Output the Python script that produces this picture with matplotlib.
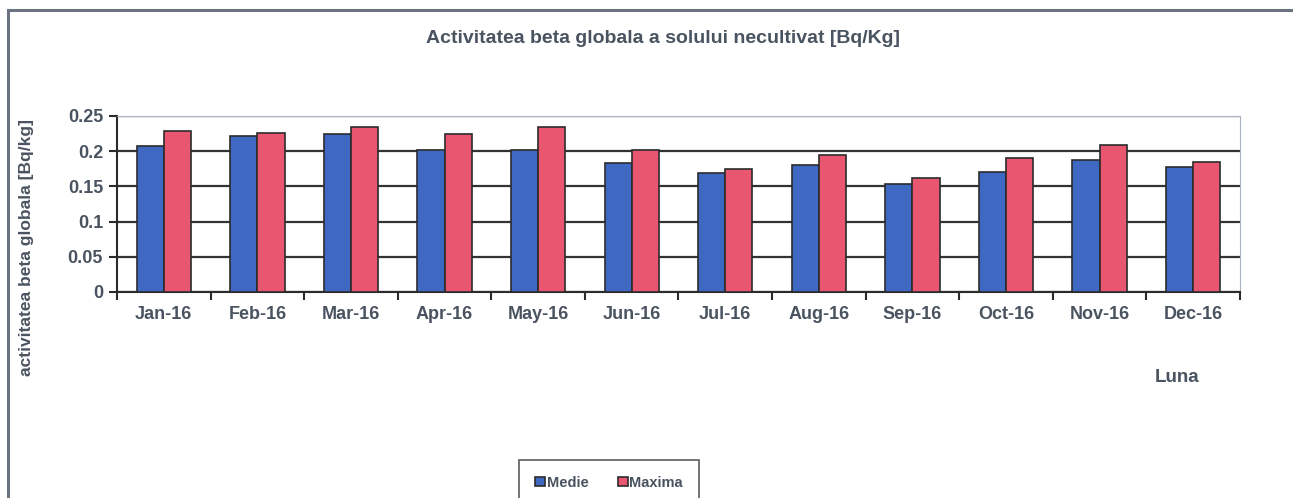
import numpy as np
import matplotlib
matplotlib.use('Agg')
import matplotlib.pyplot as plt
from matplotlib.patches import Rectangle

matplotlib.rc('font', **{'family': 'Liberation Sans', 'weight': 'bold', 'size': 11})

# data
months = ['Jan-16', 'Feb-16', 'Mar-16', 'Apr-16', 'May-16', 'Jun-16',
          'Jul-16', 'Aug-16', 'Sep-16', 'Oct-16', 'Nov-16', 'Dec-16']
medie = [0.207, 0.222, 0.225, 0.202, 0.202, 0.183, 0.169, 0.180, 0.153, 0.170, 0.187, 0.178]
maxima = [0.229, 0.226, 0.234, 0.224, 0.234, 0.202, 0.175, 0.195, 0.162, 0.191, 0.209, 0.184]

blue = '#3f68c3'
red = '#e8566f'
txt = '#4a5461'
edge = '#2b2b2b'

fig = plt.figure(figsize=(12.93, 4.98), dpi=100)

# outer chart border (left + top only visible)
fig.add_artist(Rectangle((8 / 1293, -0.1), 1.2, 1 - 10 / 498 + 0.1, transform=fig.transFigure,
                         fill=False, edgecolor='#6b7380', lw=2.2))

ax = fig.add_axes([117 / 1293, 1 - 292 / 498, (1240 - 117) / 1293, (292 - 116) / 498])

x = np.arange(len(months))
w = 0.29
ax.bar(x - w / 2, medie, w, color=blue, edgecolor=edge, lw=1.2, label='Medie', zorder=3)
ax.bar(x + w / 2, maxima, w, color=red, edgecolor=edge, lw=1.2, label='Maxima', zorder=3)

ax.set_xlim(-0.5, len(months) - 0.5)
ax.set_ylim(0, 0.25)
ax.set_yticks([0, 0.05, 0.1, 0.15, 0.2, 0.25])
ax.set_yticklabels(['0', '0.05', '0.1', '0.15', '0.2', '0.25'], color=txt, fontsize=13)
ax.set_xticks(x)
ax.set_xticklabels(months, color=txt, fontsize=13)
ax.tick_params(axis='x', length=0, pad=10)
ax.set_xticks(np.arange(-0.5, len(months)), minor=True)
ax.tick_params(axis='x', which='minor', length=6, width=1.5, color=edge, direction='out')
ax.tick_params(axis='y', length=6, width=1.5, color=edge, direction='out', pad=4)

ax.yaxis.grid(True, color='#333333', lw=1.6, zorder=0)
ax.set_axisbelow(True)
ax.spines['left'].set_color(edge)
ax.spines['left'].set_linewidth(1.5)
ax.spines['bottom'].set_color(edge)
ax.spines['bottom'].set_linewidth(1.5)
ax.spines['top'].set_color('#a9b3c2')
ax.spines['right'].set_color('#a9b3c2')

fig.text(663 / 1293, 1 - 38 / 498, 'Activitatea beta globala a solului necultivat [Bq/Kg]',
         ha='center', va='center', fontsize=14, color=txt)
fig.text(27 / 1293, 1 - 247 / 498, 'activitatea beta globala [Bq/kg]', rotation=90,
         ha='center', va='center', fontsize=12.5, color=txt)
fig.text(1177 / 1293, 1 - 377 / 498, 'Luna', ha='center', va='center', fontsize=13.5, color=txt)

leg = fig.legend(loc='center', bbox_to_anchor=(609 / 1293, 1 - 483 / 498), ncol=2,
                 frameon=True, fancybox=False, fontsize=10.5, handlelength=0.7, handleheight=0.6,
                 handletextpad=0.1, columnspacing=2.0, borderpad=1.1, labelcolor=txt)
leg.get_frame().set_edgecolor('#333333')
leg.get_frame().set_linewidth(1.2)

fig.savefig('out.png', dpi=100)
